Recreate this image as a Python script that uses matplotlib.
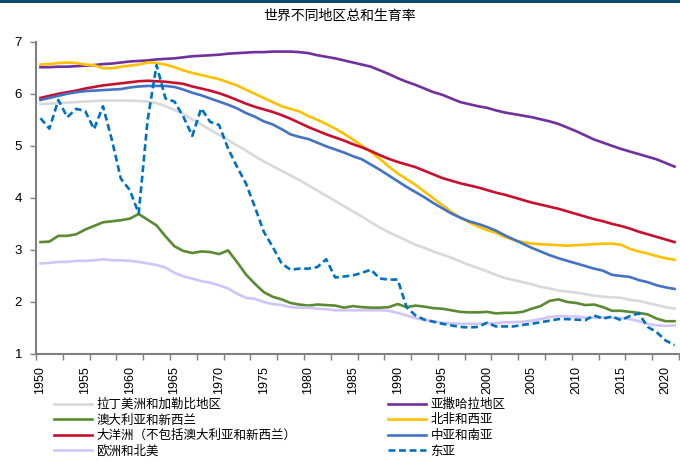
import matplotlib
matplotlib.use("Agg")
import matplotlib.pyplot as plt
from matplotlib.patches import Rectangle
from matplotlib.ticker import MultipleLocator, FixedLocator
import numpy as np

years = list(range(1950, 2022))

latin_america = [5.80, 5.81, 5.82, 5.83, 5.84, 5.85, 5.86, 5.87, 5.87, 5.87,
                 5.87, 5.86, 5.85, 5.82, 5.76, 5.69, 5.61, 5.51, 5.41, 5.31,
                 5.21, 5.11, 5.01, 4.91, 4.80, 4.70, 4.61, 4.52, 4.43, 4.34,
                 4.24, 4.14, 4.04, 3.94, 3.84, 3.74, 3.64, 3.53, 3.43, 3.34,
                 3.26, 3.18, 3.10, 3.04, 2.97, 2.91, 2.85, 2.78, 2.71, 2.65,
                 2.59, 2.52, 2.46, 2.42, 2.38, 2.34, 2.29, 2.26, 2.22, 2.20,
                 2.18, 2.15, 2.12, 2.10, 2.09, 2.08, 2.04, 2.02, 1.98, 1.94,
                 1.90, 1.87]

sub_saharan = [6.51, 6.51, 6.52, 6.52, 6.53, 6.54, 6.55, 6.57, 6.58, 6.60,
               6.62, 6.63, 6.64, 6.66, 6.67, 6.68, 6.70, 6.72, 6.73, 6.74,
               6.75, 6.77, 6.78, 6.79, 6.80, 6.80, 6.81, 6.81, 6.81, 6.80,
               6.78, 6.74, 6.71, 6.68, 6.64, 6.60, 6.56, 6.52, 6.45, 6.38,
               6.30, 6.23, 6.17, 6.10, 6.03, 5.98, 5.91, 5.84, 5.80, 5.76,
               5.73, 5.68, 5.64, 5.61, 5.58, 5.55, 5.51, 5.47, 5.42, 5.35,
               5.28, 5.20, 5.12, 5.06, 5.00, 4.94, 4.89, 4.84, 4.79, 4.74,
               4.67, 4.60]

aus_nz = [3.15, 3.16, 3.27, 3.27, 3.30, 3.39, 3.46, 3.53, 3.55, 3.57,
          3.60, 3.69, 3.58, 3.47, 3.26, 3.07, 2.98, 2.94, 2.97, 2.96,
          2.92, 2.99, 2.77, 2.53, 2.35, 2.19, 2.10, 2.05, 1.98, 1.95,
          1.93, 1.95, 1.94, 1.93, 1.89, 1.92, 1.90, 1.89, 1.89, 1.90,
          1.96, 1.90, 1.93, 1.91, 1.88, 1.87, 1.84, 1.81, 1.80, 1.80,
          1.81, 1.78, 1.79, 1.79, 1.81, 1.87, 1.92, 2.02, 2.05, 2.00,
          1.98, 1.94, 1.95, 1.90, 1.83, 1.83, 1.81, 1.79, 1.76, 1.68,
          1.63, 1.63]

n_africa_w_asia = [6.56, 6.57, 6.59, 6.60, 6.59, 6.56, 6.55, 6.49, 6.49, 6.52,
                   6.54, 6.56, 6.60, 6.59, 6.56, 6.51, 6.45, 6.40, 6.36, 6.32,
                   6.28, 6.22, 6.16, 6.08, 6.00, 5.92, 5.84, 5.76, 5.71, 5.66,
                   5.57, 5.50, 5.42, 5.33, 5.23, 5.12, 5.00, 4.88, 4.75, 4.60,
                   4.47, 4.36, 4.25, 4.12, 3.99, 3.86, 3.73, 3.62, 3.53, 3.45,
                   3.38, 3.33, 3.25, 3.19, 3.15, 3.12, 3.11, 3.10, 3.09, 3.08,
                   3.09, 3.10, 3.11, 3.12, 3.12, 3.10, 3.02, 2.97, 2.93, 2.88,
                   2.84, 2.81]

oceania = [5.92, 5.96, 6.00, 6.03, 6.06, 6.10, 6.13, 6.16, 6.18, 6.20,
           6.22, 6.24, 6.25, 6.24, 6.23, 6.21, 6.19, 6.14, 6.10, 6.06,
           6.01, 5.95, 5.88, 5.81, 5.75, 5.70, 5.65, 5.59, 5.52, 5.44,
           5.36, 5.29, 5.22, 5.16, 5.10, 5.03, 4.97, 4.90, 4.82, 4.75,
           4.69, 4.64, 4.59, 4.52, 4.45, 4.38, 4.33, 4.28, 4.24, 4.20,
           4.15, 4.10, 4.06, 4.01, 3.96, 3.91, 3.87, 3.83, 3.79, 3.74,
           3.69, 3.64, 3.59, 3.55, 3.50, 3.46, 3.41, 3.35, 3.30, 3.25,
           3.20, 3.15]

c_s_asia = [5.88, 5.92, 5.96, 6.00, 6.03, 6.05, 6.06, 6.07, 6.08, 6.09,
            6.12, 6.14, 6.15, 6.15, 6.15, 6.13, 6.08, 6.02, 5.97, 5.91,
            5.85, 5.79, 5.72, 5.63, 5.56, 5.47, 5.41, 5.32, 5.22, 5.17,
            5.13, 5.06, 4.99, 4.93, 4.87, 4.80, 4.74, 4.64, 4.54, 4.43,
            4.32, 4.21, 4.11, 4.01, 3.90, 3.80, 3.70, 3.62, 3.55, 3.50,
            3.44, 3.37, 3.28, 3.20, 3.12, 3.04, 2.97, 2.90, 2.84, 2.79,
            2.74, 2.69, 2.64, 2.60, 2.52, 2.50, 2.48, 2.42, 2.38, 2.32,
            2.28, 2.25]

europe_na = [2.74, 2.75, 2.77, 2.77, 2.79, 2.79, 2.80, 2.82, 2.80, 2.80,
             2.79, 2.77, 2.74, 2.71, 2.66, 2.56, 2.49, 2.45, 2.40, 2.37,
             2.32, 2.26, 2.16, 2.08, 2.06, 2.00, 1.96, 1.94, 1.90, 1.89,
             1.89, 1.87, 1.86, 1.84, 1.84, 1.84, 1.84, 1.84, 1.84, 1.83,
             1.79, 1.74, 1.69, 1.65, 1.63, 1.60, 1.59, 1.58, 1.58, 1.58,
             1.59, 1.59, 1.61, 1.61, 1.62, 1.64, 1.67, 1.71, 1.73, 1.72,
             1.72, 1.70, 1.70, 1.70, 1.70, 1.69, 1.67, 1.63, 1.58, 1.55,
             1.54, 1.55]

east_asia = [5.53, 5.33, 5.88, 5.55, 5.71, 5.67, 5.32, 5.76, 5.11, 4.37,
             4.15, 3.70, 5.50, 6.55, 5.91, 5.85, 5.56, 5.19, 5.72, 5.46,
             5.40, 4.95, 4.60, 4.28, 3.83, 3.35, 3.06, 2.74, 2.62, 2.64,
             2.64, 2.67, 2.82, 2.47, 2.49, 2.51, 2.56, 2.62, 2.45, 2.43,
             2.43, 1.90, 1.74, 1.66, 1.62, 1.58, 1.55, 1.52, 1.51, 1.52,
             1.60, 1.53, 1.53, 1.53, 1.56, 1.58, 1.61, 1.64, 1.67, 1.67,
             1.66, 1.65, 1.74, 1.68, 1.72, 1.65, 1.73, 1.78, 1.52, 1.42,
             1.26, 1.17]

names = ["拉丁美洲和加勒比地区", "亚撒哈拉地区", "澳大利亚和新西兰", "北非和西亚",
         "大洋洲（不包括澳大利亚和新西兰）", "中亚和南亚", "欧洲和北美", "东亚"]
colors = ["#d9d9d9", "#7030a0", "#5a8a32", "#ffc000",
          "#c8102e", "#4472c4", "#d2c4fa", "#0070c0"]
series = [latin_america, sub_saharan, aus_nz, n_africa_w_asia,
          oceania, c_s_asia, europe_na, east_asia]

cjk = ["Noto Sans CJK SC", "DejaVu Sans"]

fig = plt.figure(figsize=(6.8, 4.63), dpi=100)
ax = fig.add_axes([36 / 680, 109 / 463, 643 / 680, 312.3 / 463])

lines = []
for name, col, vals in zip(names, colors, series):
    ls = (0, (2.6, 1.4)) if name == "东亚" else "-"
    ln, = ax.plot(years, vals, color=col, lw=1.9, ls=ls, label=name)
    lines.append(ln)

ax.set_xlim(1949.5, 2021.5)
ax.set_ylim(1, 7)

# labels every 5 years, tick marks every 3 categories (on the boundaries)
ax.xaxis.set_major_locator(FixedLocator(list(range(1950, 2021, 5))))
ax.xaxis.set_minor_locator(FixedLocator(list(np.arange(1949.5, 2022, 3))))
ax.set_xticklabels([str(y) for y in range(1950, 2021, 5)], rotation=90,
                   family="Liberation Sans", fontsize=9)
ax.tick_params(axis="x", which="major", length=0, pad=9)
ax.tick_params(axis="x", which="minor", length=4, width=1, color="#808080")
ax.yaxis.set_major_locator(MultipleLocator(1))
ax.tick_params(axis="y", length=4, width=1, color="#808080", pad=6)
for lab in ax.get_yticklabels():
    lab.set_family("Liberation Sans")
    lab.set_fontsize(9.5)

for s in ["top", "right"]:
    ax.spines[s].set_visible(False)
for s in ["left", "bottom"]:
    ax.spines[s].set_color("#808080")
    ax.spines[s].set_linewidth(1.5)

fig.text(0.5, 1 - 16 / 463, "世界不同地区总和生育率", ha="center", va="center",
         family=cjk, fontsize=10)

# thin dark band across the top
fig.add_artist(Rectangle((0, 1 - 3 / 463), 1, 3 / 463, transform=fig.transFigure,
                         color="#0b4a6e", lw=0))

left_idx = [0, 2, 4, 6]
right_idx = [1, 3, 5, 7]
for idx, x0 in [(left_idx, 54 / 680), (right_idx, 388 / 680)]:
    leg = fig.legend([lines[i] for i in idx], [names[i] for i in idx],
                     loc="upper left", bbox_to_anchor=(x0, 1 - 398 / 463),
                     frameon=False, prop={"family": cjk, "size": 9},
                     handlelength=3.0, handletextpad=0.4, labelspacing=0.2,
                     borderpad=0, borderaxespad=0)

fig.savefig("out.png", dpi=100)
